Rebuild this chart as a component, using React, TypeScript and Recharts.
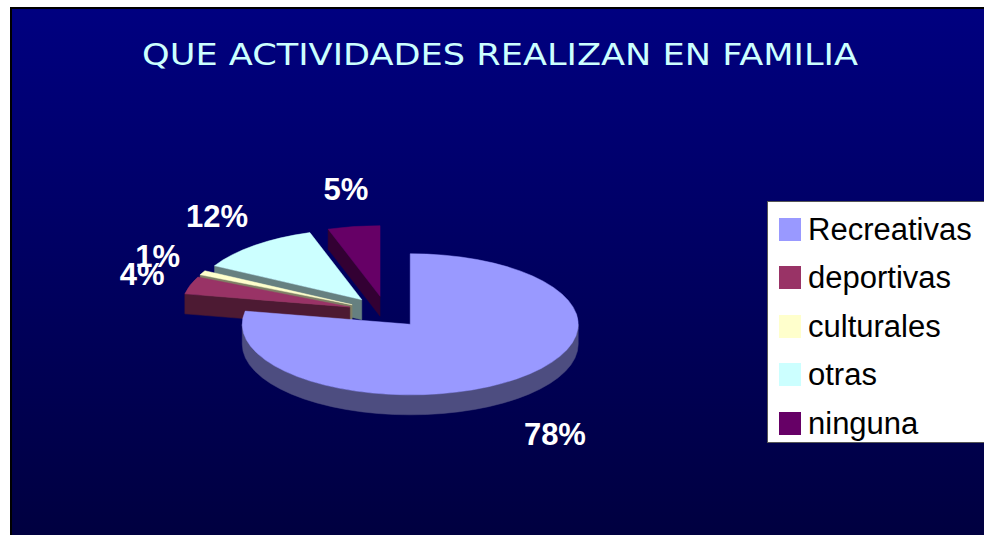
import { PieChart, Pie, Cell } from 'recharts';

const title = 'QUE ACTIVIDADES REALIZAN EN FAMILIA';
const categories = ['Recreativas', 'deportivas', 'culturales', 'otras', 'ninguna'];
const shares = [78, 4, 1, 12, 5];
const colors = ['#9999FF', '#993366', '#FFFFCC', '#CCFFFF', '#660066'];
const sideColors = ['#4D4D80', '#4D1A33', '#808066', '#668080', '#330033'];

// slices go counter-clockwise from 12 o'clock so the big front slice is painted last
const drawOrder = [4, 3, 2, 1, 0];
const pieData = drawOrder.map((i) => ({ name: categories[i], value: shares[i], idx: i }));

const W = 974;
const H = 528;
const CX = 376;
const CY = 305;
const R = 168;
const TILT = 0.42;
const DEPTH = 20;
const EXPLODE = 38;
const LABEL_A = 234;
const LABEL_B = 110;
const LABEL_SIZE = 31;
const rad = Math.PI / 180;

// draws the 3d slice (walls + top) and its percent label
const renderSlice = (props: any) => {
  const { cx, cy, startAngle, endAngle, percent } = props;
  const idx = props.payload?.idx ?? props.idx;
  const a1 = Math.min(startAngle, endAngle);
  const a2 = Math.max(startAngle, endAngle);
  const m = (a1 + a2) / 2;
  const ox = cx + EXPLODE * Math.cos(m * rad);
  const oy = cy - EXPLODE * TILT * Math.sin(m * rad);
  const pt = (a: number, dy = 0) => [ox + R * Math.cos(a * rad), oy - R * TILT * Math.sin(a * rad) + dy];
  const ry = R * TILT;
  const fmt = (p: number[]) => `${p[0].toFixed(2)},${p[1].toFixed(2)}`;

  const walls: string[] = [];
  // radial walls that face the viewer
  if (Math.sin((a1 - 90) * rad) < -0.001) {
    walls.push(`M${ox},${oy} L${fmt(pt(a1))} L${fmt(pt(a1, DEPTH))} L${ox},${oy + DEPTH} Z`);
  }
  if (Math.sin((a2 + 90) * rad) < -0.001) {
    walls.push(`M${ox},${oy} L${fmt(pt(a2))} L${fmt(pt(a2, DEPTH))} L${ox},${oy + DEPTH} Z`);
  }
  // outer front wall
  [0, 360].forEach((k) => {
    const lo = Math.max(a1, 180 + k);
    const hi = Math.min(a2, 360 + k);
    if (lo < hi) {
      const big = hi - lo > 180 ? 1 : 0;
      walls.push(
        `M${fmt(pt(lo))} A${R},${ry} 0 ${big} 0 ${fmt(pt(hi))} L${fmt(pt(hi, DEPTH))} A${R},${ry} 0 ${big} 1 ${fmt(pt(lo, DEPTH))} Z`
      );
    }
  });
  const large = a2 - a1 > 180 ? 1 : 0;
  const top = `M${ox},${oy} L${fmt(pt(a1))} A${R},${ry} 0 ${large} 0 ${fmt(pt(a2))} Z`;

  const txt = `${Math.round(percent * 100)}%`;
  const w = ((txt.length - 1) * 0.556 + 0.889) * LABEL_SIZE;
  const cosm = Math.cos(m * rad);
  const sinm = Math.sin(m * rad);
  const lx = cx + (LABEL_A + w / 2) * cosm;
  const ly = cy - (LABEL_B + 14 + (sinm < 0 ? DEPTH + 15 : 0)) * sinm;

  return (
    <g key={`slice-${idx}`}>
      {walls.map((d, j) => (
        <path key={j} d={d} fill={sideColors[idx]} stroke={sideColors[idx]} strokeWidth={0.5} />
      ))}
      <path d={top} fill={colors[idx]} stroke={colors[idx]} strokeWidth={0.5} />
      <text
        x={lx}
        y={ly}
        dy="0.35em"
        textAnchor="middle"
        fill="#FFFFFF"
        fontSize={LABEL_SIZE}
        fontWeight="bold"
        fontFamily="Arial, 'Liberation Sans', sans-serif"
      >
        {txt}
      </text>
    </g>
  );
};

export default function App() {
  return (
    <div
      style={{
        position: 'absolute',
        left: 10,
        top: 7,
        width: W,
        height: H,
        overflow: 'hidden',
        background: 'linear-gradient(to bottom, #000080 0%, #000040 100%)',
      }}
    >
      <svg width={W} height={100} style={{ position: 'absolute', left: 0, top: 0 }}>
        <text
          x={490}
          y={58}
          textAnchor="middle"
          fill="#CCFFFF"
          fontSize={31}
          fontFamily="'Comic Sans MS', 'DejaVu Sans', sans-serif"
          textLength={716}
          lengthAdjust="spacingAndGlyphs"
        >
          {title}
        </text>
      </svg>

      <div style={{ position: 'absolute', left: 0, top: 0 }}>
        <PieChart width={W} height={H} margin={{ top: 0, right: 0, bottom: 0, left: 0 }}>
          <Pie
            data={pieData}
            dataKey="value"
            nameKey="name"
            cx={CX}
            cy={CY}
            outerRadius={R}
            startAngle={90}
            endAngle={450}
            stroke="none"
            label={renderSlice}
            labelLine={false}
            isAnimationActive={false}
          >
            {pieData.map((d) => (
              <Cell key={d.name} fill="transparent" />
            ))}
          </Pie>
        </PieChart>
      </div>

      {/* Legend */}
      <div
        style={{
          position: 'absolute',
          left: 757,
          top: 194,
          width: 240,
          height: 242,
          background: '#FFFFFF',
          border: '1px solid #555',
          boxSizing: 'border-box',
          fontFamily: "Arial, 'Liberation Sans', sans-serif",
          fontSize: 31,
          color: '#000',
          paddingTop: 3,
        }}
      >
        {categories.map((c, i) => (
          <div key={c} style={{ height: 48.5, display: 'flex', alignItems: 'center' }}>
            <span
              style={{
                display: 'inline-block',
                width: 22,
                height: 23,
                marginLeft: 11,
                marginRight: 7,
                background: colors[i],
              }}
            />
            <span style={{ lineHeight: '31px' }}>{c}</span>
          </div>
        ))}
      </div>

      <div style={{ position: 'absolute', left: 0, top: 0, width: 2, height: H, background: '#000' }} />
      <div style={{ position: 'absolute', left: 0, top: 0, width: W, height: 2, background: '#000' }} />
    </div>
  );
}
